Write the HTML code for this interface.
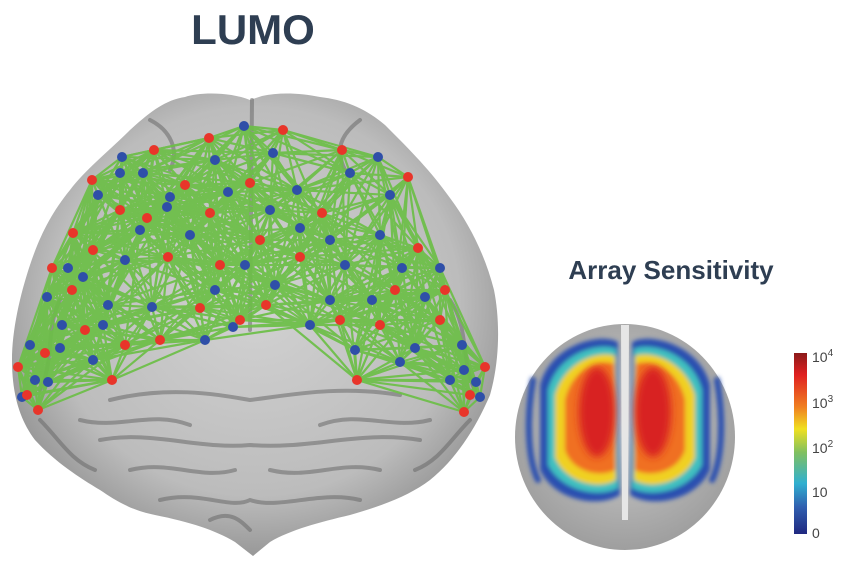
<!DOCTYPE html>
<html><head><meta charset="utf-8"><style>
html,body{margin:0;padding:0;background:#fff;width:848px;height:566px;overflow:hidden}
svg{display:block}
</style></head><body>
<svg width="848" height="566" viewBox="0 0 848 566" xmlns="http://www.w3.org/2000/svg">
<defs>
<radialGradient id="bg" cx="50%" cy="45%" r="60%">
<stop offset="0" stop-color="#d2d2d2"/><stop offset="0.7" stop-color="#bcbcbc"/><stop offset="1" stop-color="#8a8a8a"/>
</radialGradient>
<radialGradient id="sg" cx="50%" cy="45%" r="60%">
<stop offset="0" stop-color="#d0d0d0"/><stop offset="1" stop-color="#9a9a9a"/>
</radialGradient>
<linearGradient id="cb" x1="0" y1="0" x2="0" y2="1">
<stop offset="0" stop-color="#8b1a1a"/><stop offset="0.12" stop-color="#e02020"/><stop offset="0.3" stop-color="#f08020"/><stop offset="0.42" stop-color="#f0e020"/><stop offset="0.55" stop-color="#80c060"/><stop offset="0.72" stop-color="#30b0d0"/><stop offset="0.85" stop-color="#3060b0"/><stop offset="1" stop-color="#202880"/>
</linearGradient>
<filter id="bl"><feGaussianBlur stdDeviation="4"/></filter>
<filter id="bl2"><feGaussianBlur stdDeviation="2"/></filter>
</defs>
<text x="253" y="44" text-anchor="middle" font-family="Liberation Sans, sans-serif" font-weight="bold" font-size="42" fill="#2e3e52">LUMO</text>
<text x="671" y="279" text-anchor="middle" font-family="Liberation Sans, sans-serif" font-weight="bold" font-size="26" fill="#2e3e52">Array Sensitivity</text>

<path d="M250,100 C230,92 200,92 185,97 C165,100 150,112 130,130 C110,150 85,170 70,190 C52,212 40,235 30,265 C20,295 12,330 12,360 C12,395 20,420 35,440 C55,462 80,478 100,490 C115,500 130,510 155,515 C190,522 215,530 235,542 L253,556 L270,542 C290,530 320,522 350,515 C385,505 410,495 430,480 C455,460 475,430 490,395 C500,360 500,320 494,290 C485,255 470,225 450,198 C430,170 410,150 385,125 C365,108 345,100 320,97 C300,93 280,92 262,96 Z" fill="url(#bg)"/>
<g stroke="#6a6a6a" stroke-width="4" fill="none" opacity="0.55" stroke-linecap="round">
<path d="M252,100 L250,330"/>
<path d="M110,400 C170,385 220,395 250,400 C290,395 340,385 400,395"/>
<path d="M80,420 C120,430 150,410 190,425"/><path d="M320,425 C360,410 390,430 430,420"/>
<path d="M100,440 C150,430 200,450 250,445 C310,450 360,430 420,440"/>
<path d="M130,470 C170,460 200,480 235,470"/><path d="M270,470 C310,480 340,460 380,470"/>
<path d="M160,500 C200,490 230,510 250,500 C280,510 320,490 360,500"/>
<path d="M60,300 C45,330 55,360 40,390"/><path d="M450,300 C470,330 460,360 475,390"/>
<path d="M40,420 C60,440 70,460 95,470"/><path d="M470,420 C450,440 440,460 415,470"/>
<path d="M150,120 C170,130 180,150 170,170"/><path d="M360,120 C340,135 335,150 345,170"/>
<path d="M210,520 C230,510 240,520 250,530"/>
</g>
<g id="net" stroke="#6cbf47" stroke-width="2.2" opacity="0.92"></g>
<g id="dots"></g>

<ellipse cx="625" cy="437" rx="110" ry="113" fill="url(#sg)"/>
<g filter="url(#bl2)">
<path d="M540,385 C550,345 600,332 618,342 L620,495 C600,508 555,502 540,470 Z" fill="#2a4fb0"/>
<path d="M710,385 C700,345 650,332 632,342 L630,495 C650,508 695,502 710,470 Z" fill="#2a4fb0"/>
<path d="M548,390 C558,352 600,342 616,349 L618,488 C600,498 562,492 548,465 Z" fill="#40c0c0"/>
<path d="M702,390 C692,352 650,342 634,349 L632,488 C650,498 688,492 702,465 Z" fill="#40c0c0"/>
<path d="M555,395 C565,360 600,350 615,356 L616,480 C600,490 567,484 555,458 Z" fill="#f0d020"/>
<path d="M695,395 C685,360 650,350 635,356 L634,480 C650,490 683,484 695,458 Z" fill="#f0d020"/>
<path d="M565,400 C572,368 600,358 614,364 L615,470 C600,478 572,472 565,450 Z" fill="#f07020"/>
<path d="M685,400 C678,368 650,358 636,364 L635,470 C650,478 678,472 685,450 Z" fill="#f07020"/>
</g>
<g filter="url(#bl)">
<ellipse cx="597" cy="412" rx="18" ry="45" fill="#d82020"/>
<ellipse cx="653" cy="412" rx="18" ry="45" fill="#d82020"/>
</g>
<path d="M621,325 L629,325 L628,520 L622,520Z" fill="#e6e6e6"/>
<g stroke="#2a4fb0" stroke-width="6" fill="none" stroke-linecap="round" filter="url(#bl2)">
<path d="M533,380 C526,420 528,460 538,480"/><path d="M717,380 C724,420 722,460 712,480"/>
</g>

<rect x="794" y="353" width="13" height="181" fill="url(#cb)"/>
<g font-family="Liberation Sans, sans-serif" font-size="14" fill="#444">
<text x="812" y="362">10<tspan dy="-6" font-size="10">4</tspan></text>
<text x="812" y="408">10<tspan dy="-6" font-size="10">3</tspan></text>
<text x="812" y="453">10<tspan dy="-6" font-size="10">2</tspan></text>
<text x="812" y="497">10</text>
<text x="812" y="538">0</text>
</g>
</svg>
<script>
var B=[[244,126],[122,157],[215,160],[273,153],[378,157],[120,173],[143,173],[350,173],[98,195],[170,197],[228,192],[297,190],[390,195],[167,207],[270,210],[140,230],[190,235],[300,228],[330,240],[380,235],[68,268],[83,277],[402,268],[440,268],[125,260],[245,265],[345,265],[47,297],[108,305],[152,307],[215,290],[275,285],[330,300],[372,300],[425,297],[103,325],[233,327],[310,325],[62,325],[30,345],[60,348],[205,340],[355,350],[415,348],[462,345],[93,360],[400,362],[35,380],[48,382],[450,380],[464,370],[22,397],[480,397],[476,382]];
var R=[[209,138],[283,130],[154,150],[342,150],[92,180],[408,177],[185,185],[250,183],[120,210],[210,213],[147,218],[322,213],[73,233],[93,250],[168,257],[260,240],[300,257],[418,248],[52,268],[220,265],[445,290],[72,290],[200,308],[266,305],[395,290],[340,320],[125,345],[85,330],[240,320],[440,320],[45,353],[160,340],[18,367],[485,367],[112,380],[357,380],[380,325],[38,410],[464,412],[27,395],[470,395]];
var A=B.concat(R),ns="http://www.w3.org/2000/svg",net=document.getElementById('net'),d=document.getElementById('dots');
for(var i=0;i<A.length;i++)for(var j=i+1;j<A.length;j++){var dx=A[i][0]-A[j][0],dy=A[i][1]-A[j][1],dd=Math.sqrt(dx*dx+dy*dy);if(dd<120&&((i*7+j*3)%4!=0||dd<75)){var l=document.createElementNS(ns,'line');l.setAttribute('x1',A[i][0]);l.setAttribute('y1',A[i][1]);l.setAttribute('x2',A[j][0]);l.setAttribute('y2',A[j][1]);net.appendChild(l);}}
function dot(p,c){var e=document.createElementNS(ns,'circle');e.setAttribute('cx',p[0]);e.setAttribute('cy',p[1]);e.setAttribute('r',5);e.setAttribute('fill',c);d.appendChild(e);}
B.forEach(function(p){dot(p,'#2f4fa8')});R.forEach(function(p){dot(p,'#e8352a')});
</script>
</body></html>
